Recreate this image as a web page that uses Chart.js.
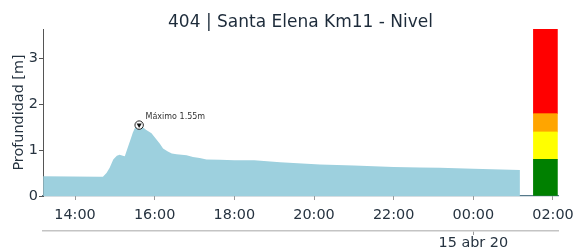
<!DOCTYPE html>
<html>
<head>
<meta charset="utf-8">
<script src="https://cdn.jsdelivr.net/npm/chart.js@4"></script>
<style>
  html, body { margin: 0; padding: 0; background: #fff; }
  #wrap { width: 574px; height: 252px; }
</style>
</head>
<body>
<div id="wrap"><canvas id="myChart" width="574" height="252"></canvas></div>
<script>
"use strict"

// hours counted from 00:00 of 14 abr (25 = 01:00 of 15 abr)
const levelTimes = [13.2, 14.62, 14.70, 14.79, 14.87, 14.96, 15.05, 15.12, 15.20, 15.25, 15.32, 15.40, 15.45, 15.50, 15.56, 15.61,
  15.68, 15.78, 15.92, 16.03, 16.13, 16.21, 16.33, 16.43, 16.55, 16.80, 16.96, 17.13, 17.30, 17.64, 18.0, 18.31, 18.5,
  19.15, 20.15, 21.0, 22.0, 22.65, 23.16, 24.0, 25.17];
const levelValues = [0.43, 0.42, 0.42, 0.50, 0.62, 0.80, 0.88, 0.90, 0.88, 0.87, 1.05, 1.25, 1.38, 1.48, 1.53, 1.55,
  1.52, 1.45, 1.37, 1.25, 1.14, 1.04, 0.97, 0.93, 0.91, 0.89, 0.85, 0.83, 0.80, 0.79, 0.78, 0.78, 0.78,
  0.735, 0.69, 0.665, 0.635, 0.625, 0.615, 0.595, 0.57];

// máximo
const maxTime = 15.61;
const maxValue = 1.55;

// umbrales (barra de colores)
const thresholdTime = 25.81;
const thresholdLow = [0, 0.8, 1.4, 1.8];
const thresholdHigh = [0.8, 1.4, 1.8, 3.65];
const thresholdColors = ['#008000', '#ffff00', '#ffa500', '#ff0000'];

const hourTicks = [14, 16, 18, 20, 22, 24, 26];
const dayTicks = [24];
const dayLabels = ['15 abr 20'];
const yTicks = [0, 1, 2, 3];

const xMin = 13.196;
const xMax = 26.126;
const yMax = 3.65;

const textColor = '#263340';
const font = 'DejaVu Sans';

window.onload = init;

function init() {
  drawChart();
}

// the last hour label is allowed to run past the canvas edge, like the original
function noSidePadding(scale) {
  scale.paddingLeft = 0;
  scale.paddingRight = 0;
}

function drawChart() {
  const ctx = document.getElementById('myChart');

  let datasets = [];

  datasets.push({
    type: 'line',
    data: levelTimes.map((t, i) => ({ x: t, y: levelValues[i] })),
    backgroundColor: '#9dd0de',
    borderWidth: 0,
    pointRadius: 0,
    fill: 'origin',
    order: 5
  });

  for (let i = 0; i < thresholdLow.length; i++) {
    datasets.push({
      type: 'bar',
      data: [{ x: thresholdTime, y: [thresholdLow[i], thresholdHigh[i]] }],
      backgroundColor: thresholdColors[i],
      barThickness: 24,
      grouped: false,
      order: 4
    });
  }

  // marcador del máximo: circulo + triangulo
  datasets.push({
    type: 'line',
    data: [{ x: maxTime, y: maxValue }],
    showLine: false,
    pointStyle: 'circle',
    pointRadius: 4.2,
    pointBackgroundColor: '#fff',
    pointBorderColor: '#222',
    pointBorderWidth: 1,
    order: 1
  });
  datasets.push({
    type: 'line',
    data: [{ x: maxTime, y: maxValue }],
    showLine: false,
    pointStyle: 'triangle',
    pointRotation: 180,
    pointRadius: 3,
    pointBackgroundColor: '#111',
    pointBorderWidth: 0,
    order: 0
  });

  const extras = {
    id: 'extras',
    afterDraw(chart) {
      const c = chart.ctx;
      const area = chart.chartArea;
      c.save();
      c.fillStyle = '#1d2b3a';
      c.font = '17px "' + font + '"';
      c.textAlign = 'center';
      c.textBaseline = 'alphabetic';
      c.fillText('404 | Santa Elena Km11 - Nivel', (area.left + area.right) / 2, 26.5);

      const px = chart.scales.x.getPixelForValue(maxTime);
      const py = chart.scales.y.getPixelForValue(maxValue);
      c.fillStyle = '#333';
      c.font = '8px "' + font + '"';
      c.textAlign = 'left';
      c.fillText('Máximo ' + maxValue.toFixed(2) + 'm', px + 6.4, py - 6.3);
      c.restore();
    }
  };

  new Chart(ctx, {
    type: 'line',
    data: { datasets: datasets },
    plugins: [extras],
    options: {
      responsive: false,
      animation: false,
      layout: { padding: { top: 29, right: 16, bottom: 3, left: 0 } },
      plugins: {
        legend: { display: false },
        tooltip: { enabled: false },
        title: { display: false }
      },
      scales: {
        x: {
          type: 'linear',
          position: 'bottom',
          offset: false,
          min: xMin,
          max: xMax,
          weight: 0,
          afterBuildTicks: (scale) => { scale.ticks = hourTicks.map(v => ({ value: v })); },
          afterFit: (scale) => { scale.height = 35; noSidePadding(scale); },
          grid: { offset: false, drawOnChartArea: false, tickLength: 4, tickColor: '#9a9a9a' },
          border: { color: '#56798a', width: 1.2 },
          ticks: {
            padding: 7,
            color: textColor,
            font: { family: font, size: 14.4 },
            maxRotation: 0,
            autoSkip: false,
            callback: (v) => String(v % 24).padStart(2, '0') + ':00'
          }
        },
        x2: {
          type: 'linear',
          position: 'bottom',
          offset: false,
          min: xMin,
          max: xMax,
          weight: 1,
          afterBuildTicks: (scale) => { scale.ticks = dayTicks.map(v => ({ value: v })); },
          afterFit: (scale) => { scale.height = 18; noSidePadding(scale); },
          grid: { offset: false, drawOnChartArea: false, tickLength: 4, tickColor: '#9a9a9a' },
          border: { color: '#c4c4c4', width: 1.5 },
          ticks: {
            padding: 0,
            color: textColor,
            font: { family: font, size: 14.4 },
            maxRotation: 0,
            autoSkip: false,
            callback: (v) => dayLabels[dayTicks.indexOf(v)]
          }
        },
        y: {
          min: 0,
          max: yMax,
          afterBuildTicks: (scale) => { scale.ticks = yTicks.map(v => ({ value: v })); },
          afterFit: (scale) => { scale.width = 43; },
          grid: { drawOnChartArea: false, tickLength: 4, tickColor: '#555' },
          border: { color: '#555', width: 1 },
          ticks: {
            padding: 1,
            color: textColor,
            font: { family: font, size: 14.4 }
          },
          title: {
            display: true,
            text: 'Profundidad [m]',
            color: textColor,
            font: { family: font, size: 14.4 },
            padding: { top: 11, bottom: 0 }
          }
        }
      }
    }
  });
}
</script>
</body>
</html>
